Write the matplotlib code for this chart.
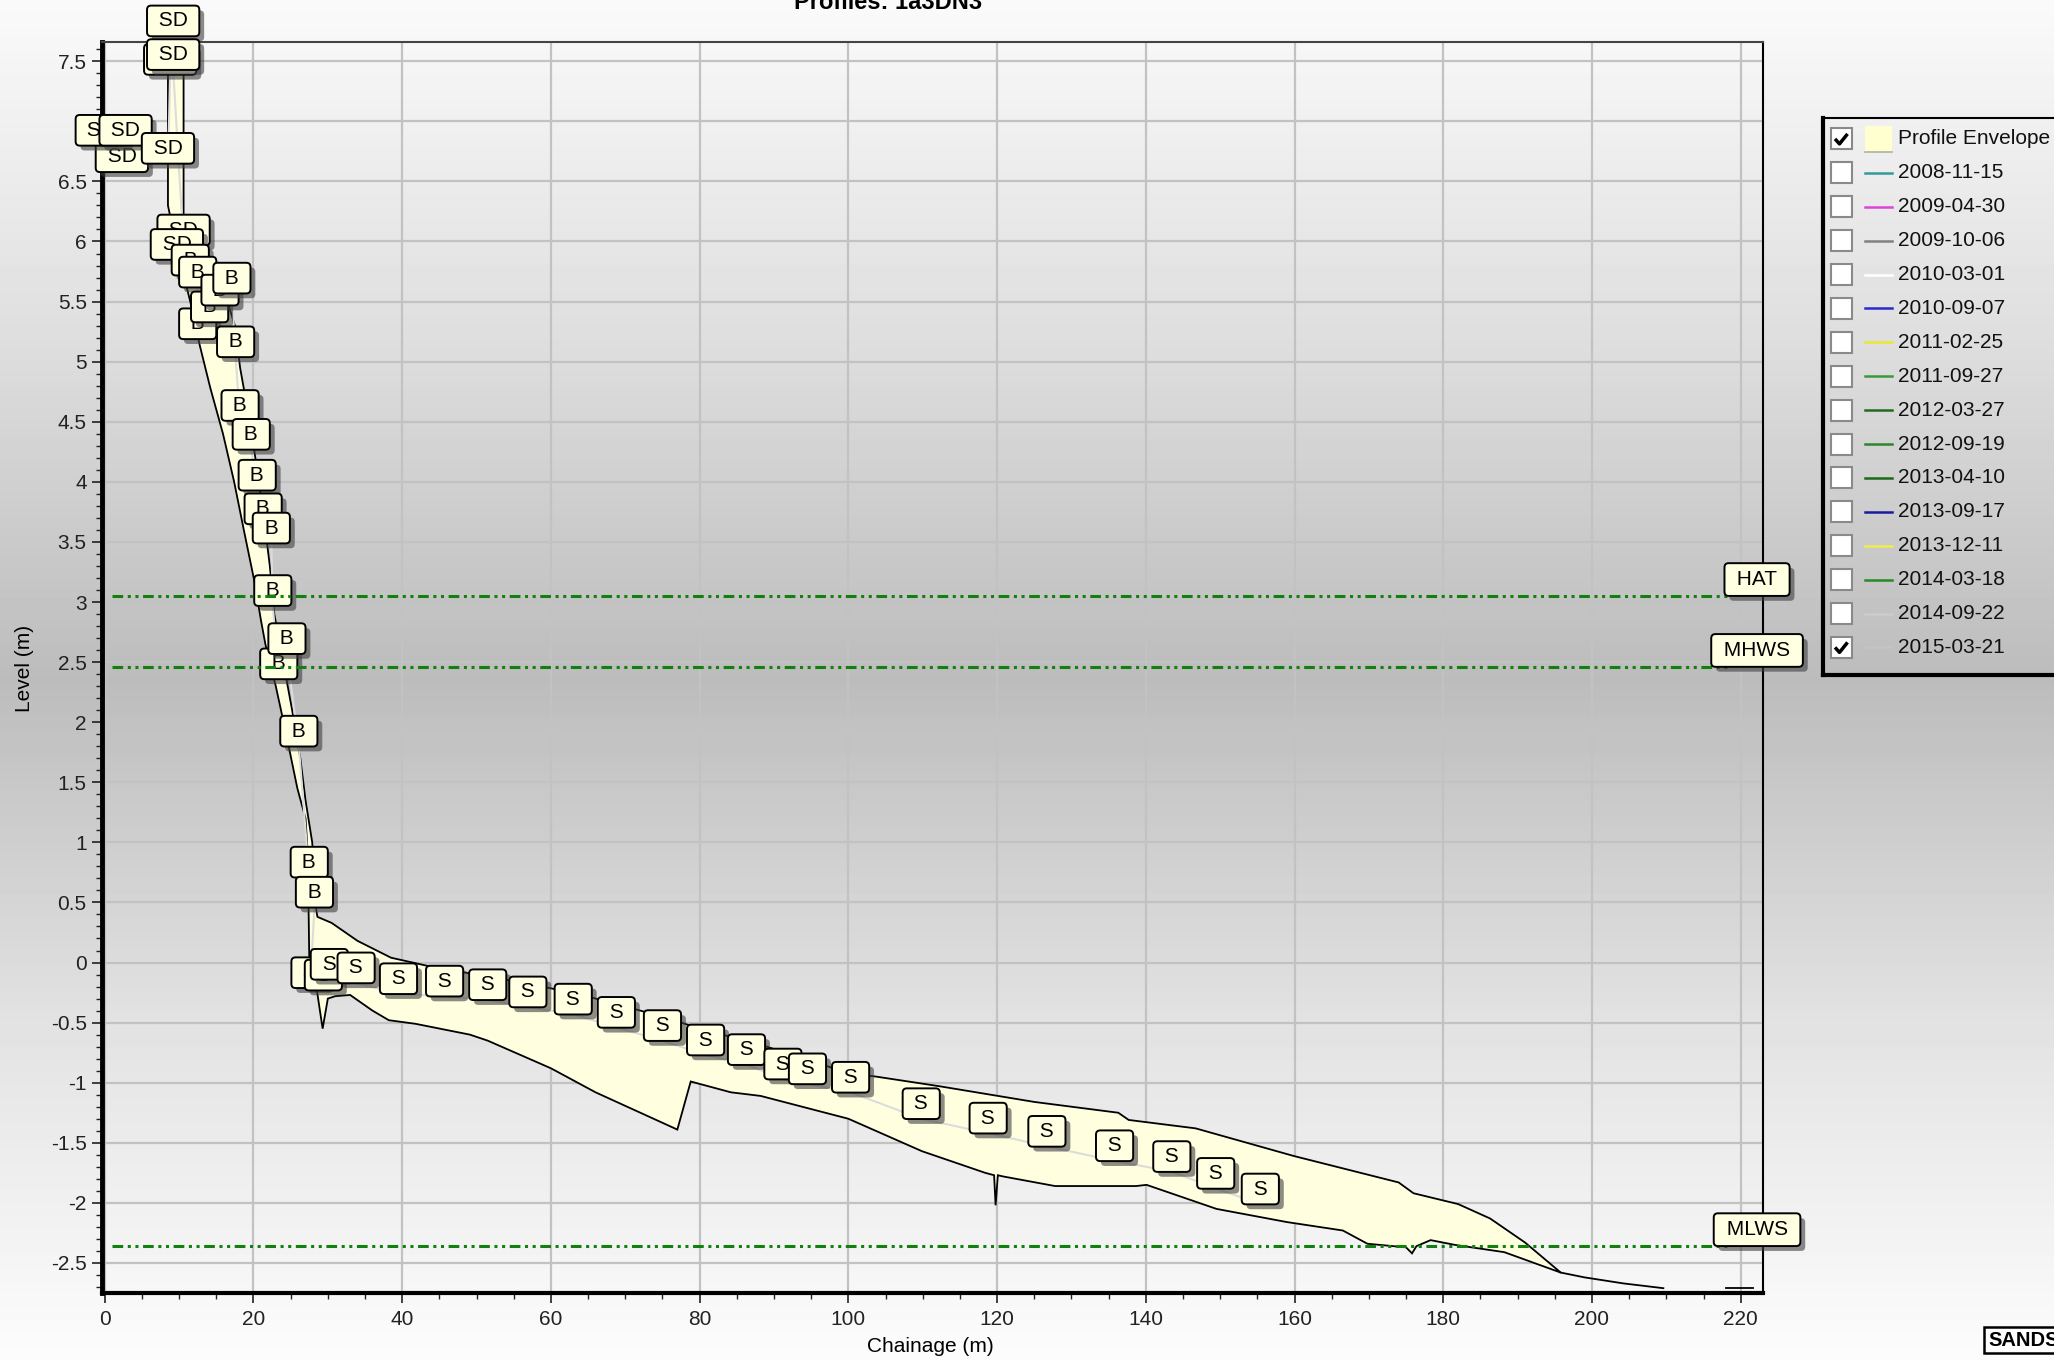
import matplotlib
matplotlib.use('Agg')
import matplotlib.pyplot as plt
import matplotlib.patheffects as pe
from matplotlib.patches import Polygon, Rectangle
from matplotlib.ticker import MultipleLocator, FormatStrFormatter
import numpy as np

plt.rcParams['font.family'] = ['Liberation Sans', 'DejaVu Sans']
plt.rcParams['axes.unicode_minus'] = False

W, H = 2054, 1360

# profile envelope: upper (max) and lower (min) bounds, chainage (m) / level (m)
env_hi_x = [8.6, 10.6, 10.6, 12.5, 15.5, 17.5, 18.2, 19.5, 20.5, 21.6, 22.2, 22.8, 24.3, 25.2,
            26.3, 27.0, 27.9, 28.4, 28.6, 30.5, 34.0, 38.5, 45.0, 52.0, 57.0, 63.0, 69.0, 75.0,
            81.0, 87.0, 94.0, 100.0, 103.8, 112.3, 125.0, 136.3, 137.7, 146.7, 159.9, 174.0,
            176.0, 182.0, 186.3, 191.0, 195.8]
env_hi_y = [7.65, 7.65, 6.2, 5.95, 5.7, 5.3, 4.95, 4.5, 4.1, 3.6, 3.3, 2.9, 2.4, 2.1,
            1.7, 1.35, 1.0, 0.45, 0.38, 0.33, 0.18, 0.04, -0.05, -0.12, -0.18, -0.25, -0.35, -0.45,
            -0.57, -0.66, -0.80, -0.92, -0.95, -1.03, -1.16, -1.25, -1.31, -1.38, -1.61, -1.83,
            -1.92, -2.01, -2.13, -2.33, -2.58]
env_lo_x = [8.5, 8.5, 9.5, 11.5, 12.8, 14.2, 15.9, 17.4, 18.7, 20.2, 21.0, 21.6, 23.0, 24.4,
            25.9, 27.0, 27.3, 27.4, 27.5, 28.5, 29.3, 30.0, 31.0, 33.0, 36.0, 38.2, 41.8, 49.1,
            51.5, 60.0, 66.0, 77.0, 78.8, 84.2, 88.2, 100.0, 109.9, 118.4, 119.6, 119.8, 120.1,
            120.8, 127.8, 138.7, 140.1, 149.5, 159.0, 166.5, 169.8, 175.0, 175.8, 176.4, 178.3,
            181.6, 188.2, 195.8]
env_lo_y = [7.65, 6.3, 6.0, 5.5, 5.13, 4.78, 4.4, 4.0, 3.6, 3.15, 2.85, 2.65, 2.3, 1.9,
            1.45, 1.2, 0.9, 0.5, 0.05, -0.22, -0.55, -0.3, -0.28, -0.27, -0.40, -0.48, -0.51, -0.60,
            -0.65, -0.88, -1.08, -1.39, -0.99, -1.08, -1.11, -1.30, -1.57, -1.75, -1.77, -2.02, -1.77,
            -1.78, -1.86, -1.86, -1.85, -2.05, -2.16, -2.23, -2.34, -2.37, -2.42, -2.36, -2.31,
            -2.35, -2.41, -2.58]
tail_x = [195.8, 199.0, 204.2, 209.6]
tail_y = [-2.58, -2.62, -2.67, -2.71]
stub_x = [218.0, 221.7]
stub_y = [-2.71, -2.71]

# 2015-03-21 survey points with feature codes
lab_x = [2.3, -0.4, 2.8, 8.5, 8.8, 9.2, 9.2, 10.6, 9.7, 11.5, 12.5, 12.5, 14.1, 15.5, 17.1, 17.6,
         18.2, 19.7, 20.5, 21.3, 22.4, 22.6, 23.4, 24.5, 26.1, 27.5, 28.2,
         27.6, 29.4, 30.2, 33.8, 39.5, 45.7, 51.5, 56.9, 63.0, 68.8, 75.0, 80.8, 86.3, 91.2,
         94.5, 100.3, 109.8, 118.8, 126.7, 135.8, 143.5, 149.4, 155.4]
lab_y = [6.58, 6.80, 6.80, 6.65, 7.39, 7.71, 7.43, 5.97, 5.85, 5.72, 5.62, 5.19, 5.33, 5.47, 5.57, 5.04,
         4.51, 4.27, 3.93, 3.65, 3.49, 2.97, 2.36, 2.57, 1.80, 0.71, 0.46,
         -0.21, -0.23, -0.14, -0.17, -0.26, -0.28, -0.31, -0.37, -0.43, -0.54, -0.65, -0.77, -0.85, -0.97,
         -1.01, -1.08, -1.30, -1.42, -1.53, -1.65, -1.74, -1.88, -2.01]
lab_code = ['SD'] * 9 + ['B'] * 18 + ['S'] * 23

datum_names = ['HAT', 'MHWS', 'MLWS']
datum_levels = [3.05, 2.46, -2.36]

legend_names = ['Profile Envelope', '2008-11-15', '2009-04-30', '2009-10-06', '2010-03-01',
                '2010-09-07', '2011-02-25', '2011-09-27', '2012-03-27', '2012-09-19',
                '2013-04-10', '2013-09-17', '2013-12-11', '2014-03-18', '2014-09-22', '2015-03-21']
legend_colors = ['#ffffd0', '#339a9a', '#dd44dd', '#808080', '#ffffff', '#2a2acc', '#e8e830',
                 '#3a993a', '#226a22', '#2a882a', '#1a6a1a', '#1a1aa0', '#eeee50', '#2a8a2a',
                 '#cccccc', '#c4c4c4']
legend_checked = [True] + [False] * 14 + [True]

fig = plt.figure(figsize=(W / 100, H / 100), dpi=100)

# grey gradient background
bg = fig.add_axes([0, 0, 1, 1], zorder=-10)
grad = np.interp(np.linspace(0, 1, 400), [0, 0.25, 0.5, 0.75, 1], [250, 222, 188, 226, 252])
bg.imshow(grad[:, None], cmap='gray', vmin=0, vmax=255, aspect='auto')
bg.axis('off')

ax = fig.add_axes([102 / W, 1 - 1293 / H, (1763 - 102) / W, (1293 - 42) / H])
ax.set_facecolor('none')
ax.set_axisbelow(True)
ax.set_xlim(-0.37, 223.0)
ax.set_ylim(-2.75, 7.66)

env = Polygon(np.column_stack([env_hi_x + env_lo_x[::-1], env_hi_y + env_lo_y[::-1]]),
              closed=True, fc='#ffffe0', ec='black', lw=1.3, zorder=2)
ax.add_patch(env)
ax.plot(tail_x, tail_y, color='black', lw=1.3, zorder=2)
ax.plot(stub_x, stub_y, color='black', lw=1.3, zorder=2)
ax.plot(lab_x, lab_y, color='#dcdcdc', lw=1.5, zorder=3)

for i, (x, y, c) in enumerate(zip(lab_x, lab_y, lab_code)):
    t = ax.annotate(f' {c} ', (x, y), xytext=(0, 4), textcoords='offset points',
                    ha='center', va='bottom', fontsize=15, zorder=10 + i * 0.01,
                    annotation_clip=False,
                    bbox=dict(boxstyle='round,pad=0.28,rounding_size=0.2',
                              fc='#ffffe1', ec='black', lw=1.4))
    t.get_bbox_patch().set_path_effects([
        pe.SimplePatchShadow(offset=(3.5, -3.5), shadow_rgbFace='#404040', alpha=0.6),
        pe.Normal()])

for name, lev in zip(datum_names, datum_levels):
    ax.plot([1.0, 218.6], [lev, lev], color='#11800f', lw=2.2,
            linestyle=(0, (3.5, 1.5, 1, 1.5, 1, 1.5)), zorder=20)
    t = ax.annotate(f' {name} ', (222.2, lev), xytext=(0, 5), textcoords='offset points',
                    ha='center', va='bottom', fontsize=15, zorder=30, annotation_clip=False,
                    bbox=dict(boxstyle='round,pad=0.33,rounding_size=0.2',
                              fc='#ffffe1', ec='black', lw=1.4))
    t.get_bbox_patch().set_path_effects([
        pe.SimplePatchShadow(offset=(3.5, -3.5), shadow_rgbFace='#404040', alpha=0.6),
        pe.Normal()])

ax.xaxis.set_major_locator(MultipleLocator(20))
ax.xaxis.set_minor_locator(MultipleLocator(5))
ax.yaxis.set_major_locator(MultipleLocator(0.5))
ax.yaxis.set_minor_locator(MultipleLocator(0.1))
ax.yaxis.set_major_formatter(FormatStrFormatter('%g'))
ax.xaxis.set_major_formatter(FormatStrFormatter('%g'))
ax.grid(which='major', color='#c2c2c2', lw=1.6)
ax.tick_params(which='major', direction='out', length=7, width=1.2, labelsize=15,
               colors='#222222')
ax.tick_params(which='minor', direction='out', length=4, width=1.0, colors='#222222')
ax.tick_params(axis='x', pad=5)
ax.tick_params(axis='y', pad=4)
ax.spines['left'].set_linewidth(3.5)
ax.spines['bottom'].set_linewidth(3.0)
ax.spines['top'].set_linewidth(1.5)
ax.spines['top'].set_color('#444444')
ax.spines['right'].set_linewidth(1.5)

fig.text(930 / W, 1 - 1347 / H, 'Chainage (m)', ha='center', va='center', fontsize=15)
fig.text(25 / W, 1 - 668 / H, 'Level (m)', ha='center', va='center', fontsize=15, rotation=90)
fig.text(888 / W, 1 - 9 / H, 'Profiles: 1a3DN3', ha='center', va='baseline',
         fontsize=17, fontweight='bold')

# legend panel, drawn in figure pixel coordinates
lg = fig.add_axes([1823 / W, 1 - 675 / H, (2070 - 1823) / W, (675 - 118) / H], zorder=5)
lg.set_xlim(1823, 2070)
lg.set_ylim(675, 118)
lg.set_facecolor('none')
lg.set_xticks([])
lg.set_yticks([])
lg.spines['left'].set_linewidth(3)
lg.spines['bottom'].set_linewidth(3)
lg.spines['top'].set_linewidth(1.5)
lg.spines['right'].set_visible(False)
for i, (name, col, chk) in enumerate(zip(legend_names, legend_colors, legend_checked)):
    yc = 138.9 + 33.9 * i
    lg.add_patch(Rectangle((1831, yc - 10.5), 21, 21, fc='white', ec='#8a8a8a', lw=1.5))
    if chk:
        lg.plot([1835, 1839.5, 1847.5], [yc, yc + 5, yc - 5], color='black', lw=2.5,
                solid_capstyle='butt')
    if i == 0:
        lg.add_patch(Rectangle((1865, yc - 13), 27, 26, fc=col, ec='none'))
        lg.plot([1865, 1892], [yc + 13, yc + 13], color='#b0b0a0', lw=1.2)
    else:
        lg.plot([1865, 1892], [yc, yc], color=col, lw=1.8)
    lg.text(1898, yc, name, ha='left', va='center', fontsize=15, color='#111111')

fig.text(1988 / W, 1 - 1340 / H, 'SANDS', ha='left', va='center', fontsize=14.5,
         fontweight='bold',
         bbox=dict(boxstyle='square,pad=0.18', fc='white', ec='black', lw=1.8))

fig.savefig('out.png', dpi=100)
